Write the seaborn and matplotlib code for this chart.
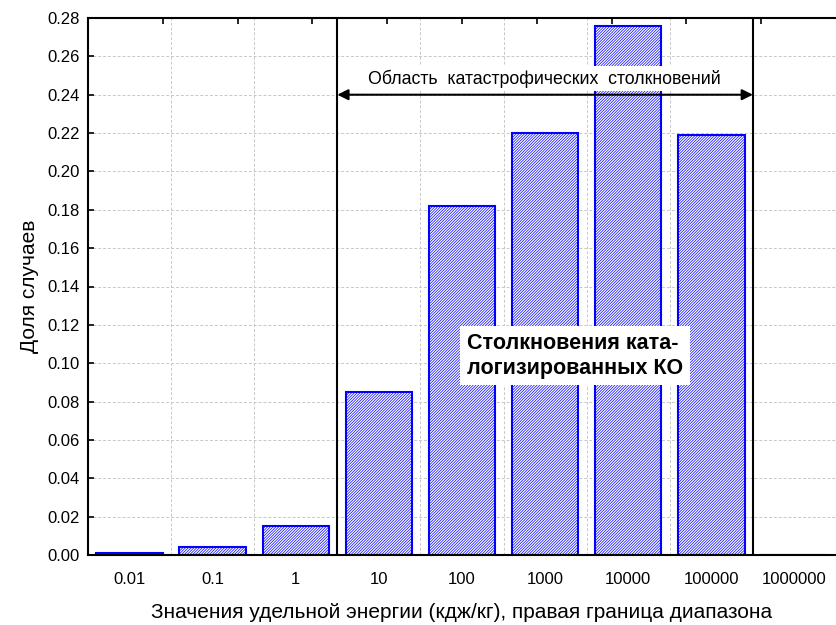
import numpy as np
import pandas as pd
import matplotlib.pyplot as plt
import seaborn as sns

# energy ranges (right boundary), share of collisions
energy = ["0.01", "0.1", "1", "10", "100", "1000", "10000", "100000", "1000000"]
share = [0.0008, 0.004, 0.015, 0.085, 0.182, 0.220, 0.276, 0.219, 0.0]
yticks = [0.00, 0.02, 0.04, 0.06, 0.08, 0.10, 0.12, 0.14, 0.16, 0.18, 0.20, 0.22, 0.24, 0.26, 0.28]

sns.set_style("white")
plt.rcParams['font.family'] = ['Liberation Sans', 'DejaVu Sans']
plt.rcParams['hatch.linewidth'] = 0.5
for key in ["text.color", "axes.labelcolor", "xtick.color", "ytick.color"]:
    plt.rcParams[key] = "black"

df = pd.DataFrame({"energy": energy, "share": share})

fig = plt.figure(figsize=(8.36, 6.25), dpi=100)
ax = fig.add_axes([88/836, 70/625, 748/836, 537/625])

sns.barplot(data=df, x="energy", y="share", color="white", edgecolor="blue",
            linewidth=1.5, hatch="/" * 12, width=0.8, ax=ax)

ax.set_xlim(-0.5, 8.5)
ax.set_ylim(0, 0.28)
ax.set_yticks(yticks)
ax.set_yticklabels([f"{v:.2f}" for v in yticks])

# grid: horizontal at y ticks, vertical at category boundaries
ax.set_xticks(np.arange(0.5, 8, 1), minor=True)
ax.yaxis.grid(True, ls=(0, (3, 2)), color="#c8c8c8", lw=0.7)
ax.xaxis.grid(True, which="minor", ls=(0, (3, 2)), color="#c8c8c8", lw=0.7)
ax.set_axisbelow(True)

ax.tick_params(axis="x", which="major", length=0, labelsize=12, pad=12)
ax.tick_params(axis="x", which="minor", direction="in", length=4, width=1.2)
ax.tick_params(axis="y", direction="in", length=4, width=1.2, labelsize=12, left=True, pad=6)

for side in ["left", "bottom", "top"]:
    ax.spines[side].set_color("black")
    ax.spines[side].set_linewidth(1.5)
ax.spines["right"].set_visible(False)

top = ax.secondary_xaxis("top", functions=(lambda x: (x + 0.5) * 10 / 9, lambda x: x * 0.9 - 0.5))
top.set_xticks(range(1, 10))
top.set_xticklabels([])
top.tick_params(direction="in", length=4, width=1.2, color="black")
top.spines["top"].set_visible(False)

ax.set_xlabel("Значения удельной энергии (кдж/кг), правая граница диапазона", fontsize=15, labelpad=12)
ax.set_ylabel("Доля случаев", fontsize=15, labelpad=6)

# catastrophic collision region
ax.axvline(2.5, color="black", lw=1.5)
ax.axvline(7.5, color="black", lw=1.5)
ax.text(4.99, 0.2485, "Область  катастрофических  столкновений", ha="center", va="center",
        fontsize=12.8, bbox=dict(facecolor="white", edgecolor="none", pad=2.5))
ax.annotate("", xy=(2.5, 0.24), xytext=(7.5, 0.24),
            arrowprops=dict(arrowstyle="<|-|>", color="black", lw=1.5,
                            mutation_scale=16, shrinkA=0, shrinkB=0))

ax.text(5.36, 0.104, "Столкновения ката-\nлогизированных КО", ha="center", va="center",
        multialignment="left", fontsize=15.5, fontweight="bold", linespacing=1.25,
        bbox=dict(facecolor="white", edgecolor="none", pad=5))

fig.savefig("out.png", dpi=100)
